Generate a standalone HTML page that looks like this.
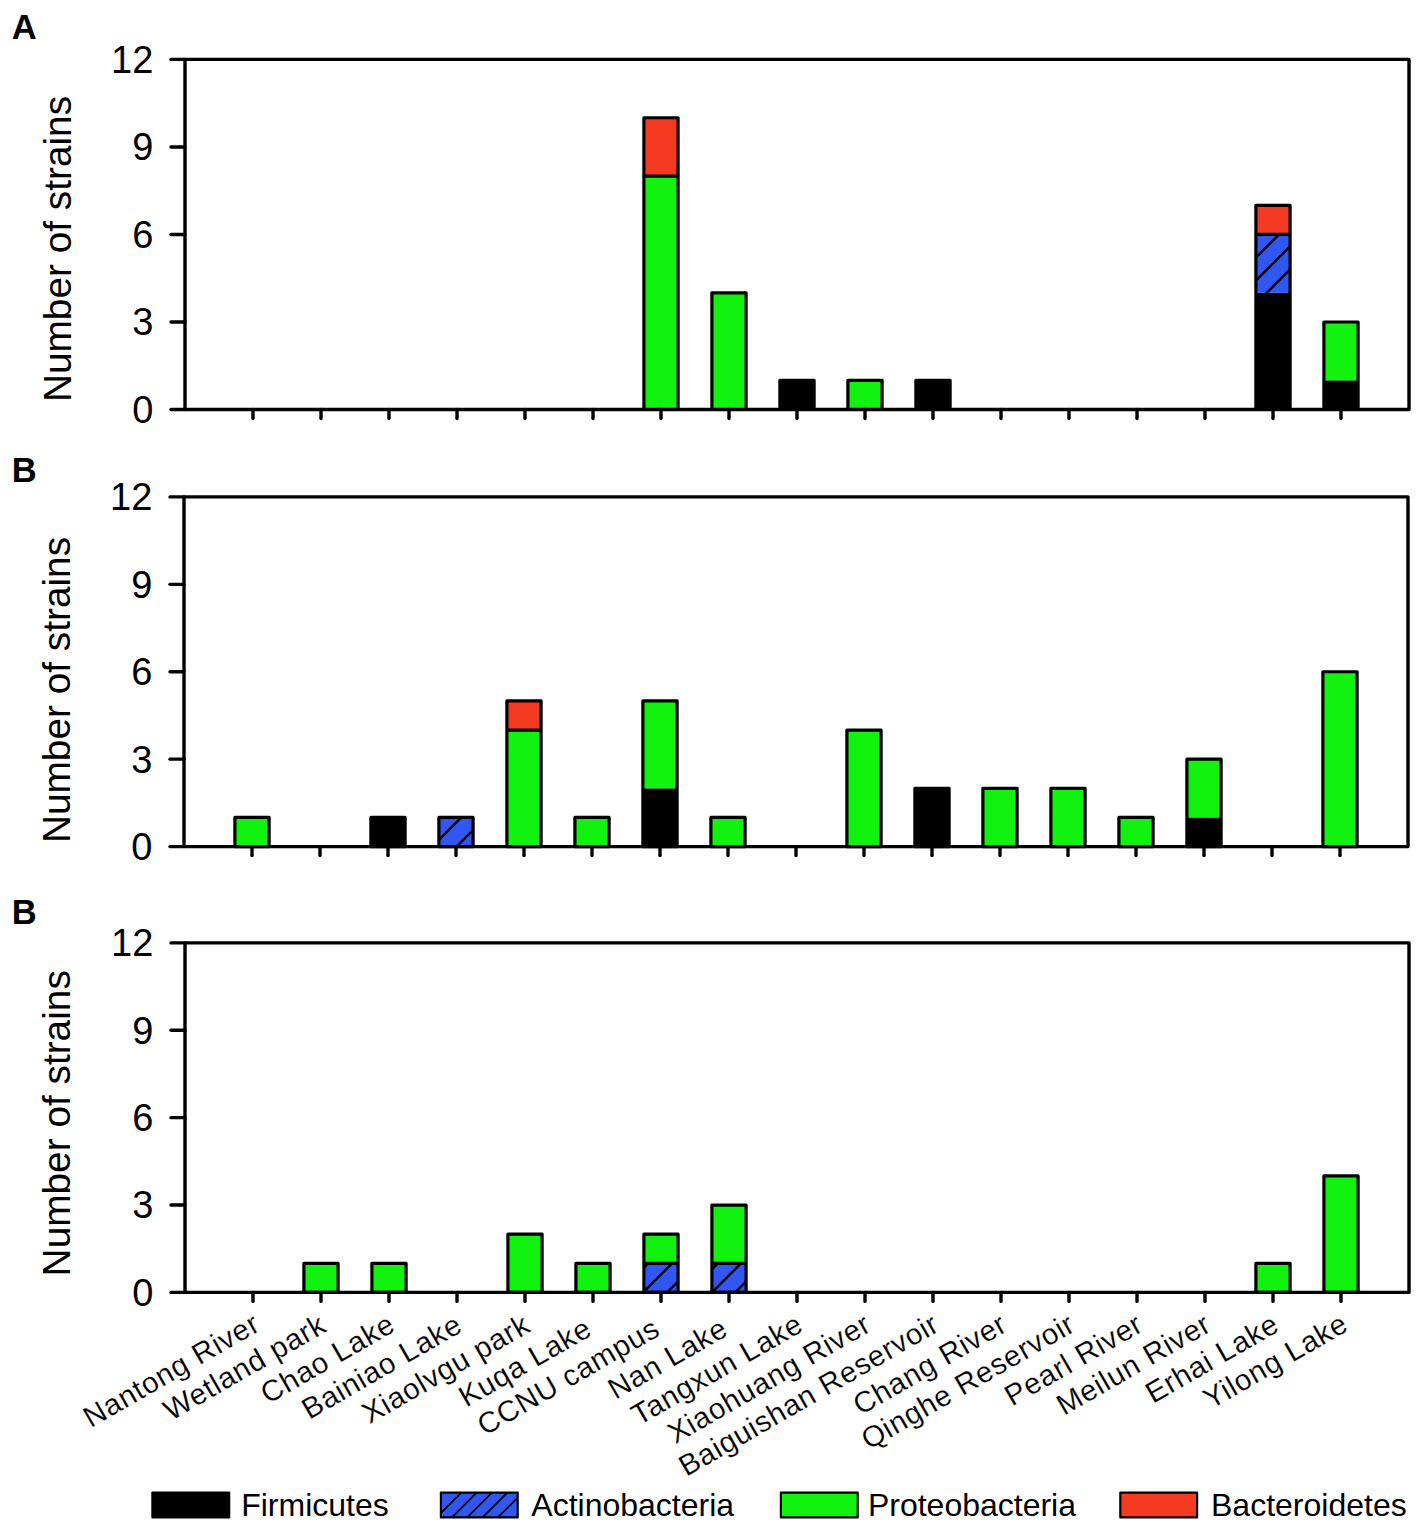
<!DOCTYPE html><html><head><meta charset="utf-8"><style>html,body{margin:0;padding:0;background:#fff;}svg{display:block;}</style></head><body>
<svg width="1421" height="1525" viewBox="0 0 1421 1525">
<defs>
</defs>
<rect width="100%" height="100%" fill="#fff"/>
<text x="11.7" y="38.9" font-family='"Liberation Sans", sans-serif' font-weight="bold" font-size="34.5">A</text>
<text transform="translate(71.20,249) rotate(-90)" text-anchor="middle" font-family='"Liberation Sans", sans-serif' font-size="38.8">Number of strains</text>
<rect x="643.90" y="176.10" width="34.20" height="233.40" fill="#11F20E"/>
<rect x="643.90" y="117.75" width="34.20" height="58.35" fill="#F53A22"/>
<rect x="643.90" y="117.75" width="34.20" height="291.75" fill="none" stroke="#000" stroke-width="3.2" stroke-linejoin="round"/>
<line x1="643.90" y1="176.10" x2="678.10" y2="176.10" stroke="#000" stroke-width="3.2"/>
<rect x="711.90" y="292.80" width="34.20" height="116.70" fill="#11F20E"/>
<rect x="711.90" y="292.80" width="34.20" height="116.70" fill="none" stroke="#000" stroke-width="3.2" stroke-linejoin="round"/>
<rect x="779.90" y="380.32" width="34.20" height="29.18" fill="#000000"/>
<rect x="779.90" y="380.32" width="34.20" height="29.18" fill="none" stroke="#000" stroke-width="3.2" stroke-linejoin="round"/>
<rect x="847.90" y="380.32" width="34.20" height="29.18" fill="#11F20E"/>
<rect x="847.90" y="380.32" width="34.20" height="29.18" fill="none" stroke="#000" stroke-width="3.2" stroke-linejoin="round"/>
<rect x="915.90" y="380.32" width="34.20" height="29.18" fill="#000000"/>
<rect x="915.90" y="380.32" width="34.20" height="29.18" fill="none" stroke="#000" stroke-width="3.2" stroke-linejoin="round"/>
<rect x="1255.90" y="292.80" width="34.20" height="116.70" fill="#000000"/>
<clipPath id="c1"><rect x="1255.90" y="234.45" width="34.20" height="58.35"/></clipPath>
<rect x="1255.90" y="234.45" width="34.20" height="58.35" fill="#3157F3"/>
<path d="M1191.70,298.80L1262.05,228.45M1214.70,298.80L1285.05,228.45M1237.70,298.80L1308.05,228.45M1260.70,298.80L1331.05,228.45M1283.70,298.80L1354.05,228.45" stroke="#000" stroke-width="2.4" clip-path="url(#c1)"/>
<rect x="1255.90" y="205.28" width="34.20" height="29.17" fill="#F53A22"/>
<rect x="1255.90" y="205.28" width="34.20" height="204.22" fill="none" stroke="#000" stroke-width="3.2" stroke-linejoin="round"/>
<line x1="1255.90" y1="234.45" x2="1290.10" y2="234.45" stroke="#000" stroke-width="3.2"/>
<rect x="1323.90" y="380.32" width="34.20" height="29.18" fill="#000000"/>
<rect x="1323.90" y="321.98" width="34.20" height="58.35" fill="#11F20E"/>
<rect x="1323.90" y="321.98" width="34.20" height="87.52" fill="none" stroke="#000" stroke-width="3.2" stroke-linejoin="round"/>
<rect x="185.0" y="59.4" width="1224.0" height="350.1" fill="none" stroke="#000" stroke-width="3.4" stroke-linejoin="round"/>
<line x1="171.0" y1="409.50" x2="185.0" y2="409.50" stroke="#000" stroke-width="3.4" stroke-linecap="round"/>
<text x="153.30" y="422.90" text-anchor="end" font-family='"Liberation Sans", sans-serif' font-size="38">0</text>
<line x1="171.0" y1="321.98" x2="185.0" y2="321.98" stroke="#000" stroke-width="3.4" stroke-linecap="round"/>
<text x="153.30" y="335.38" text-anchor="end" font-family='"Liberation Sans", sans-serif' font-size="38">3</text>
<line x1="171.0" y1="234.45" x2="185.0" y2="234.45" stroke="#000" stroke-width="3.4" stroke-linecap="round"/>
<text x="153.30" y="247.85" text-anchor="end" font-family='"Liberation Sans", sans-serif' font-size="38">6</text>
<line x1="171.0" y1="146.93" x2="185.0" y2="146.93" stroke="#000" stroke-width="3.4" stroke-linecap="round"/>
<text x="153.30" y="160.33" text-anchor="end" font-family='"Liberation Sans", sans-serif' font-size="38">9</text>
<line x1="171.0" y1="59.40" x2="185.0" y2="59.40" stroke="#000" stroke-width="3.4" stroke-linecap="round"/>
<text x="153.30" y="72.80" text-anchor="end" font-family='"Liberation Sans", sans-serif' font-size="38">12</text>
<line x1="253.0" y1="409.5" x2="253.0" y2="418.5" stroke="#000" stroke-width="3.4" stroke-linecap="round"/>
<line x1="321.0" y1="409.5" x2="321.0" y2="418.5" stroke="#000" stroke-width="3.4" stroke-linecap="round"/>
<line x1="389.0" y1="409.5" x2="389.0" y2="418.5" stroke="#000" stroke-width="3.4" stroke-linecap="round"/>
<line x1="457.0" y1="409.5" x2="457.0" y2="418.5" stroke="#000" stroke-width="3.4" stroke-linecap="round"/>
<line x1="525.0" y1="409.5" x2="525.0" y2="418.5" stroke="#000" stroke-width="3.4" stroke-linecap="round"/>
<line x1="593.0" y1="409.5" x2="593.0" y2="418.5" stroke="#000" stroke-width="3.4" stroke-linecap="round"/>
<line x1="661.0" y1="409.5" x2="661.0" y2="418.5" stroke="#000" stroke-width="3.4" stroke-linecap="round"/>
<line x1="729.0" y1="409.5" x2="729.0" y2="418.5" stroke="#000" stroke-width="3.4" stroke-linecap="round"/>
<line x1="797.0" y1="409.5" x2="797.0" y2="418.5" stroke="#000" stroke-width="3.4" stroke-linecap="round"/>
<line x1="865.0" y1="409.5" x2="865.0" y2="418.5" stroke="#000" stroke-width="3.4" stroke-linecap="round"/>
<line x1="933.0" y1="409.5" x2="933.0" y2="418.5" stroke="#000" stroke-width="3.4" stroke-linecap="round"/>
<line x1="1001.0" y1="409.5" x2="1001.0" y2="418.5" stroke="#000" stroke-width="3.4" stroke-linecap="round"/>
<line x1="1069.0" y1="409.5" x2="1069.0" y2="418.5" stroke="#000" stroke-width="3.4" stroke-linecap="round"/>
<line x1="1137.0" y1="409.5" x2="1137.0" y2="418.5" stroke="#000" stroke-width="3.4" stroke-linecap="round"/>
<line x1="1205.0" y1="409.5" x2="1205.0" y2="418.5" stroke="#000" stroke-width="3.4" stroke-linecap="round"/>
<line x1="1273.0" y1="409.5" x2="1273.0" y2="418.5" stroke="#000" stroke-width="3.4" stroke-linecap="round"/>
<line x1="1341.0" y1="409.5" x2="1341.0" y2="418.5" stroke="#000" stroke-width="3.4" stroke-linecap="round"/>
<text x="11.7" y="481.8" font-family='"Liberation Sans", sans-serif' font-weight="bold" font-size="34.5">B</text>
<text transform="translate(69.50,690) rotate(-90)" text-anchor="middle" font-family='"Liberation Sans", sans-serif' font-size="38.8">Number of strains</text>
<rect x="234.90" y="817.46" width="34.20" height="29.14" fill="#11F20E"/>
<rect x="234.90" y="817.46" width="34.20" height="29.14" fill="none" stroke="#000" stroke-width="3.2" stroke-linejoin="round"/>
<rect x="370.90" y="817.46" width="34.20" height="29.14" fill="#000000"/>
<rect x="370.90" y="817.46" width="34.20" height="29.14" fill="none" stroke="#000" stroke-width="3.2" stroke-linejoin="round"/>
<clipPath id="c2"><rect x="438.90" y="817.46" width="34.20" height="29.14"/></clipPath>
<rect x="438.90" y="817.46" width="34.20" height="29.14" fill="#3157F3"/>
<path d="M401.60,852.60L442.74,811.46M426.10,852.60L467.24,811.46M450.60,852.60L491.74,811.46M475.10,852.60L516.24,811.46" stroke="#000" stroke-width="2.4" clip-path="url(#c2)"/>
<rect x="438.90" y="817.46" width="34.20" height="29.14" fill="none" stroke="#000" stroke-width="3.2" stroke-linejoin="round"/>
<rect x="506.90" y="730.03" width="34.20" height="116.57" fill="#11F20E"/>
<rect x="506.90" y="700.89" width="34.20" height="29.14" fill="#F53A22"/>
<rect x="506.90" y="700.89" width="34.20" height="145.71" fill="none" stroke="#000" stroke-width="3.2" stroke-linejoin="round"/>
<line x1="506.90" y1="730.03" x2="541.10" y2="730.03" stroke="#000" stroke-width="3.2"/>
<rect x="574.90" y="817.46" width="34.20" height="29.14" fill="#11F20E"/>
<rect x="574.90" y="817.46" width="34.20" height="29.14" fill="none" stroke="#000" stroke-width="3.2" stroke-linejoin="round"/>
<rect x="642.90" y="788.32" width="34.20" height="58.28" fill="#000000"/>
<rect x="642.90" y="700.89" width="34.20" height="87.43" fill="#11F20E"/>
<rect x="642.90" y="700.89" width="34.20" height="145.71" fill="none" stroke="#000" stroke-width="3.2" stroke-linejoin="round"/>
<rect x="710.90" y="817.46" width="34.20" height="29.14" fill="#11F20E"/>
<rect x="710.90" y="817.46" width="34.20" height="29.14" fill="none" stroke="#000" stroke-width="3.2" stroke-linejoin="round"/>
<rect x="846.90" y="730.03" width="34.20" height="116.57" fill="#11F20E"/>
<rect x="846.90" y="730.03" width="34.20" height="116.57" fill="none" stroke="#000" stroke-width="3.2" stroke-linejoin="round"/>
<rect x="914.90" y="788.32" width="34.20" height="58.28" fill="#000000"/>
<rect x="914.90" y="788.32" width="34.20" height="58.28" fill="none" stroke="#000" stroke-width="3.2" stroke-linejoin="round"/>
<rect x="982.90" y="788.32" width="34.20" height="58.28" fill="#11F20E"/>
<rect x="982.90" y="788.32" width="34.20" height="58.28" fill="none" stroke="#000" stroke-width="3.2" stroke-linejoin="round"/>
<rect x="1050.90" y="788.32" width="34.20" height="58.28" fill="#11F20E"/>
<rect x="1050.90" y="788.32" width="34.20" height="58.28" fill="none" stroke="#000" stroke-width="3.2" stroke-linejoin="round"/>
<rect x="1118.90" y="817.46" width="34.20" height="29.14" fill="#11F20E"/>
<rect x="1118.90" y="817.46" width="34.20" height="29.14" fill="none" stroke="#000" stroke-width="3.2" stroke-linejoin="round"/>
<rect x="1186.90" y="817.46" width="34.20" height="29.14" fill="#000000"/>
<rect x="1186.90" y="759.17" width="34.20" height="58.28" fill="#11F20E"/>
<rect x="1186.90" y="759.17" width="34.20" height="87.43" fill="none" stroke="#000" stroke-width="3.2" stroke-linejoin="round"/>
<rect x="1322.90" y="671.75" width="34.20" height="174.85" fill="#11F20E"/>
<rect x="1322.90" y="671.75" width="34.20" height="174.85" fill="none" stroke="#000" stroke-width="3.2" stroke-linejoin="round"/>
<rect x="184.0" y="496.9" width="1224.0" height="349.70000000000005" fill="none" stroke="#000" stroke-width="3.4" stroke-linejoin="round"/>
<line x1="170.0" y1="846.60" x2="184.0" y2="846.60" stroke="#000" stroke-width="3.4" stroke-linecap="round"/>
<text x="152.30" y="860.00" text-anchor="end" font-family='"Liberation Sans", sans-serif' font-size="38">0</text>
<line x1="170.0" y1="759.17" x2="184.0" y2="759.17" stroke="#000" stroke-width="3.4" stroke-linecap="round"/>
<text x="152.30" y="772.57" text-anchor="end" font-family='"Liberation Sans", sans-serif' font-size="38">3</text>
<line x1="170.0" y1="671.75" x2="184.0" y2="671.75" stroke="#000" stroke-width="3.4" stroke-linecap="round"/>
<text x="152.30" y="685.15" text-anchor="end" font-family='"Liberation Sans", sans-serif' font-size="38">6</text>
<line x1="170.0" y1="584.33" x2="184.0" y2="584.33" stroke="#000" stroke-width="3.4" stroke-linecap="round"/>
<text x="152.30" y="597.73" text-anchor="end" font-family='"Liberation Sans", sans-serif' font-size="38">9</text>
<line x1="170.0" y1="496.90" x2="184.0" y2="496.90" stroke="#000" stroke-width="3.4" stroke-linecap="round"/>
<text x="152.30" y="510.30" text-anchor="end" font-family='"Liberation Sans", sans-serif' font-size="38">12</text>
<line x1="252.0" y1="846.6" x2="252.0" y2="855.6" stroke="#000" stroke-width="3.4" stroke-linecap="round"/>
<line x1="320.0" y1="846.6" x2="320.0" y2="855.6" stroke="#000" stroke-width="3.4" stroke-linecap="round"/>
<line x1="388.0" y1="846.6" x2="388.0" y2="855.6" stroke="#000" stroke-width="3.4" stroke-linecap="round"/>
<line x1="456.0" y1="846.6" x2="456.0" y2="855.6" stroke="#000" stroke-width="3.4" stroke-linecap="round"/>
<line x1="524.0" y1="846.6" x2="524.0" y2="855.6" stroke="#000" stroke-width="3.4" stroke-linecap="round"/>
<line x1="592.0" y1="846.6" x2="592.0" y2="855.6" stroke="#000" stroke-width="3.4" stroke-linecap="round"/>
<line x1="660.0" y1="846.6" x2="660.0" y2="855.6" stroke="#000" stroke-width="3.4" stroke-linecap="round"/>
<line x1="728.0" y1="846.6" x2="728.0" y2="855.6" stroke="#000" stroke-width="3.4" stroke-linecap="round"/>
<line x1="796.0" y1="846.6" x2="796.0" y2="855.6" stroke="#000" stroke-width="3.4" stroke-linecap="round"/>
<line x1="864.0" y1="846.6" x2="864.0" y2="855.6" stroke="#000" stroke-width="3.4" stroke-linecap="round"/>
<line x1="932.0" y1="846.6" x2="932.0" y2="855.6" stroke="#000" stroke-width="3.4" stroke-linecap="round"/>
<line x1="1000.0" y1="846.6" x2="1000.0" y2="855.6" stroke="#000" stroke-width="3.4" stroke-linecap="round"/>
<line x1="1068.0" y1="846.6" x2="1068.0" y2="855.6" stroke="#000" stroke-width="3.4" stroke-linecap="round"/>
<line x1="1136.0" y1="846.6" x2="1136.0" y2="855.6" stroke="#000" stroke-width="3.4" stroke-linecap="round"/>
<line x1="1204.0" y1="846.6" x2="1204.0" y2="855.6" stroke="#000" stroke-width="3.4" stroke-linecap="round"/>
<line x1="1272.0" y1="846.6" x2="1272.0" y2="855.6" stroke="#000" stroke-width="3.4" stroke-linecap="round"/>
<line x1="1340.0" y1="846.6" x2="1340.0" y2="855.6" stroke="#000" stroke-width="3.4" stroke-linecap="round"/>
<text x="11.7" y="923.9" font-family='"Liberation Sans", sans-serif' font-weight="bold" font-size="34.5">B</text>
<text transform="translate(69.50,1123.3) rotate(-90)" text-anchor="middle" font-family='"Liberation Sans", sans-serif' font-size="38.8">Number of strains</text>
<rect x="303.90" y="1263.28" width="34.20" height="29.12" fill="#11F20E"/>
<rect x="303.90" y="1263.28" width="34.20" height="29.12" fill="none" stroke="#000" stroke-width="3.2" stroke-linejoin="round"/>
<rect x="371.90" y="1263.28" width="34.20" height="29.12" fill="#11F20E"/>
<rect x="371.90" y="1263.28" width="34.20" height="29.12" fill="none" stroke="#000" stroke-width="3.2" stroke-linejoin="round"/>
<rect x="507.90" y="1234.15" width="34.20" height="58.25" fill="#11F20E"/>
<rect x="507.90" y="1234.15" width="34.20" height="58.25" fill="none" stroke="#000" stroke-width="3.2" stroke-linejoin="round"/>
<rect x="575.90" y="1263.28" width="34.20" height="29.12" fill="#11F20E"/>
<rect x="575.90" y="1263.28" width="34.20" height="29.12" fill="none" stroke="#000" stroke-width="3.2" stroke-linejoin="round"/>
<clipPath id="c3"><rect x="643.90" y="1263.28" width="34.20" height="29.12"/></clipPath>
<rect x="643.90" y="1263.28" width="34.20" height="29.12" fill="#3157F3"/>
<path d="M613.10,1298.40L654.22,1257.28M637.10,1298.40L678.22,1257.28M661.10,1298.40L702.22,1257.28M685.10,1298.40L726.22,1257.28" stroke="#000" stroke-width="2.4" clip-path="url(#c3)"/>
<rect x="643.90" y="1234.15" width="34.20" height="29.12" fill="#11F20E"/>
<rect x="643.90" y="1234.15" width="34.20" height="58.25" fill="none" stroke="#000" stroke-width="3.2" stroke-linejoin="round"/>
<line x1="643.90" y1="1263.28" x2="678.10" y2="1263.28" stroke="#000" stroke-width="3.2"/>
<clipPath id="c4"><rect x="711.90" y="1263.28" width="34.20" height="29.12"/></clipPath>
<rect x="711.90" y="1263.28" width="34.20" height="29.12" fill="#3157F3"/>
<path d="M682.80,1298.40L723.92,1257.28M706.00,1298.40L747.12,1257.28M729.20,1298.40L770.32,1257.28M752.40,1298.40L793.53,1257.28" stroke="#000" stroke-width="2.4" clip-path="url(#c4)"/>
<rect x="711.90" y="1205.03" width="34.20" height="58.25" fill="#11F20E"/>
<rect x="711.90" y="1205.03" width="34.20" height="87.38" fill="none" stroke="#000" stroke-width="3.2" stroke-linejoin="round"/>
<line x1="711.90" y1="1263.28" x2="746.10" y2="1263.28" stroke="#000" stroke-width="3.2"/>
<rect x="1255.90" y="1263.28" width="34.20" height="29.12" fill="#11F20E"/>
<rect x="1255.90" y="1263.28" width="34.20" height="29.12" fill="none" stroke="#000" stroke-width="3.2" stroke-linejoin="round"/>
<rect x="1323.90" y="1175.90" width="34.20" height="116.50" fill="#11F20E"/>
<rect x="1323.90" y="1175.90" width="34.20" height="116.50" fill="none" stroke="#000" stroke-width="3.2" stroke-linejoin="round"/>
<rect x="185.0" y="942.9" width="1224.0" height="349.5000000000001" fill="none" stroke="#000" stroke-width="3.4" stroke-linejoin="round"/>
<line x1="171.0" y1="1292.40" x2="185.0" y2="1292.40" stroke="#000" stroke-width="3.4" stroke-linecap="round"/>
<text x="153.30" y="1305.80" text-anchor="end" font-family='"Liberation Sans", sans-serif' font-size="38">0</text>
<line x1="171.0" y1="1205.03" x2="185.0" y2="1205.03" stroke="#000" stroke-width="3.4" stroke-linecap="round"/>
<text x="153.30" y="1218.43" text-anchor="end" font-family='"Liberation Sans", sans-serif' font-size="38">3</text>
<line x1="171.0" y1="1117.65" x2="185.0" y2="1117.65" stroke="#000" stroke-width="3.4" stroke-linecap="round"/>
<text x="153.30" y="1131.05" text-anchor="end" font-family='"Liberation Sans", sans-serif' font-size="38">6</text>
<line x1="171.0" y1="1030.28" x2="185.0" y2="1030.28" stroke="#000" stroke-width="3.4" stroke-linecap="round"/>
<text x="153.30" y="1043.68" text-anchor="end" font-family='"Liberation Sans", sans-serif' font-size="38">9</text>
<line x1="171.0" y1="942.90" x2="185.0" y2="942.90" stroke="#000" stroke-width="3.4" stroke-linecap="round"/>
<text x="153.30" y="956.30" text-anchor="end" font-family='"Liberation Sans", sans-serif' font-size="38">12</text>
<line x1="253.0" y1="1292.4" x2="253.0" y2="1301.4" stroke="#000" stroke-width="3.4" stroke-linecap="round"/>
<line x1="321.0" y1="1292.4" x2="321.0" y2="1301.4" stroke="#000" stroke-width="3.4" stroke-linecap="round"/>
<line x1="389.0" y1="1292.4" x2="389.0" y2="1301.4" stroke="#000" stroke-width="3.4" stroke-linecap="round"/>
<line x1="457.0" y1="1292.4" x2="457.0" y2="1301.4" stroke="#000" stroke-width="3.4" stroke-linecap="round"/>
<line x1="525.0" y1="1292.4" x2="525.0" y2="1301.4" stroke="#000" stroke-width="3.4" stroke-linecap="round"/>
<line x1="593.0" y1="1292.4" x2="593.0" y2="1301.4" stroke="#000" stroke-width="3.4" stroke-linecap="round"/>
<line x1="661.0" y1="1292.4" x2="661.0" y2="1301.4" stroke="#000" stroke-width="3.4" stroke-linecap="round"/>
<line x1="729.0" y1="1292.4" x2="729.0" y2="1301.4" stroke="#000" stroke-width="3.4" stroke-linecap="round"/>
<line x1="797.0" y1="1292.4" x2="797.0" y2="1301.4" stroke="#000" stroke-width="3.4" stroke-linecap="round"/>
<line x1="865.0" y1="1292.4" x2="865.0" y2="1301.4" stroke="#000" stroke-width="3.4" stroke-linecap="round"/>
<line x1="933.0" y1="1292.4" x2="933.0" y2="1301.4" stroke="#000" stroke-width="3.4" stroke-linecap="round"/>
<line x1="1001.0" y1="1292.4" x2="1001.0" y2="1301.4" stroke="#000" stroke-width="3.4" stroke-linecap="round"/>
<line x1="1069.0" y1="1292.4" x2="1069.0" y2="1301.4" stroke="#000" stroke-width="3.4" stroke-linecap="round"/>
<line x1="1137.0" y1="1292.4" x2="1137.0" y2="1301.4" stroke="#000" stroke-width="3.4" stroke-linecap="round"/>
<line x1="1205.0" y1="1292.4" x2="1205.0" y2="1301.4" stroke="#000" stroke-width="3.4" stroke-linecap="round"/>
<line x1="1273.0" y1="1292.4" x2="1273.0" y2="1301.4" stroke="#000" stroke-width="3.4" stroke-linecap="round"/>
<line x1="1341.0" y1="1292.4" x2="1341.0" y2="1301.4" stroke="#000" stroke-width="3.4" stroke-linecap="round"/>
<text transform="translate(262.00,1329.40) rotate(-30)" text-anchor="end" font-family='"Liberation Sans", sans-serif' font-size="29.5" letter-spacing="0.7" stroke="#fff" stroke-width="0.15">Nantong River</text>
<text transform="translate(328.27,1330.40) rotate(-30)" text-anchor="end" font-family='"Liberation Sans", sans-serif' font-size="29.5" letter-spacing="0.7" stroke="#fff" stroke-width="0.15">Wetland park</text>
<text transform="translate(397.13,1329.90) rotate(-30)" text-anchor="end" font-family='"Liberation Sans", sans-serif' font-size="29.5" letter-spacing="0.7" stroke="#fff" stroke-width="0.15">Chao Lake</text>
<text transform="translate(464.27,1330.40) rotate(-30)" text-anchor="end" font-family='"Liberation Sans", sans-serif' font-size="29.5" letter-spacing="0.7" stroke="#fff" stroke-width="0.15">Bainiao Lake</text>
<text transform="translate(532.27,1330.40) rotate(-30)" text-anchor="end" font-family='"Liberation Sans", sans-serif' font-size="29.5" letter-spacing="0.7" stroke="#fff" stroke-width="0.15">Xiaolvgu park</text>
<text transform="translate(593.77,1334.15) rotate(-30)" text-anchor="end" font-family='"Liberation Sans", sans-serif' font-size="29.5" letter-spacing="0.7" stroke="#fff" stroke-width="0.15">Kuqa Lake</text>
<text transform="translate(661.77,1334.15) rotate(-30)" text-anchor="end" font-family='"Liberation Sans", sans-serif' font-size="29.5" letter-spacing="0.7" stroke="#fff" stroke-width="0.15">CCNU campus</text>
<text transform="translate(729.77,1334.15) rotate(-30)" text-anchor="end" font-family='"Liberation Sans", sans-serif' font-size="29.5" letter-spacing="0.7" stroke="#fff" stroke-width="0.15">Nan Lake</text>
<text transform="translate(805.13,1329.90) rotate(-30)" text-anchor="end" font-family='"Liberation Sans", sans-serif' font-size="29.5" letter-spacing="0.7" stroke="#fff" stroke-width="0.15">Tangxun Lake</text>
<text transform="translate(873.13,1329.90) rotate(-30)" text-anchor="end" font-family='"Liberation Sans", sans-serif' font-size="29.5" letter-spacing="0.7" stroke="#fff" stroke-width="0.15">Xiaohuang River</text>
<text transform="translate(941.13,1329.90) rotate(-30)" text-anchor="end" font-family='"Liberation Sans", sans-serif' font-size="29.5" letter-spacing="0.7" stroke="#fff" stroke-width="0.15">Baiguishan Reservoir</text>
<text transform="translate(1009.13,1329.90) rotate(-30)" text-anchor="end" font-family='"Liberation Sans", sans-serif' font-size="29.5" letter-spacing="0.7" stroke="#fff" stroke-width="0.15">Chang River</text>
<text transform="translate(1077.13,1329.90) rotate(-30)" text-anchor="end" font-family='"Liberation Sans", sans-serif' font-size="29.5" letter-spacing="0.7" stroke="#fff" stroke-width="0.15">Qinghe Reservoir</text>
<text transform="translate(1145.13,1329.90) rotate(-30)" text-anchor="end" font-family='"Liberation Sans", sans-serif' font-size="29.5" letter-spacing="0.7" stroke="#fff" stroke-width="0.15">Pearl River</text>
<text transform="translate(1213.13,1329.90) rotate(-30)" text-anchor="end" font-family='"Liberation Sans", sans-serif' font-size="29.5" letter-spacing="0.7" stroke="#fff" stroke-width="0.15">Meilun River</text>
<text transform="translate(1281.13,1329.90) rotate(-30)" text-anchor="end" font-family='"Liberation Sans", sans-serif' font-size="29.5" letter-spacing="0.7" stroke="#fff" stroke-width="0.15">Erhai Lake</text>
<text transform="translate(1350.00,1329.40) rotate(-30)" text-anchor="end" font-family='"Liberation Sans", sans-serif' font-size="29.5" letter-spacing="0.7" stroke="#fff" stroke-width="0.15">Yilong Lake</text>
<rect x="152.40" y="1492.60" width="76.80" height="24.80" fill="#000000" stroke="#000" stroke-width="2.2" stroke-linejoin="round"/>
<text x="241.2" y="1516" font-family='"Liberation Sans", sans-serif' font-size="32">Firmicutes</text>
<clipPath id="c5"><rect x="440.90" y="1492.60" width="76.80" height="24.80"/></clipPath>
<rect x="440.90" y="1492.60" width="76.80" height="24.80" fill="#3157F3"/>
<path d="M430.60,1523.40L467.40,1486.60M445.90,1523.40L482.70,1486.60M461.20,1523.40L498.00,1486.60M476.60,1523.40L513.40,1486.60M491.90,1523.40L528.70,1486.60" stroke="#000" stroke-width="1.8" clip-path="url(#c5)"/>
<rect x="440.90" y="1492.60" width="76.80" height="24.80" fill="none" stroke="#000" stroke-width="2.2" stroke-linejoin="round"/>
<text x="531.3" y="1516" font-family='"Liberation Sans", sans-serif' font-size="32">Actinobacteria</text>
<rect x="780.90" y="1492.60" width="76.80" height="24.80" fill="#11F20E" stroke="#000" stroke-width="2.2" stroke-linejoin="round"/>
<text x="867.9" y="1516" font-family='"Liberation Sans", sans-serif' font-size="32">Proteobacteria</text>
<rect x="1120.30" y="1492.60" width="76.80" height="24.80" fill="#F53A22" stroke="#000" stroke-width="2.2" stroke-linejoin="round"/>
<text x="1211" y="1516" font-family='"Liberation Sans", sans-serif' font-size="32">Bacteroidetes</text>
</svg></body></html>
